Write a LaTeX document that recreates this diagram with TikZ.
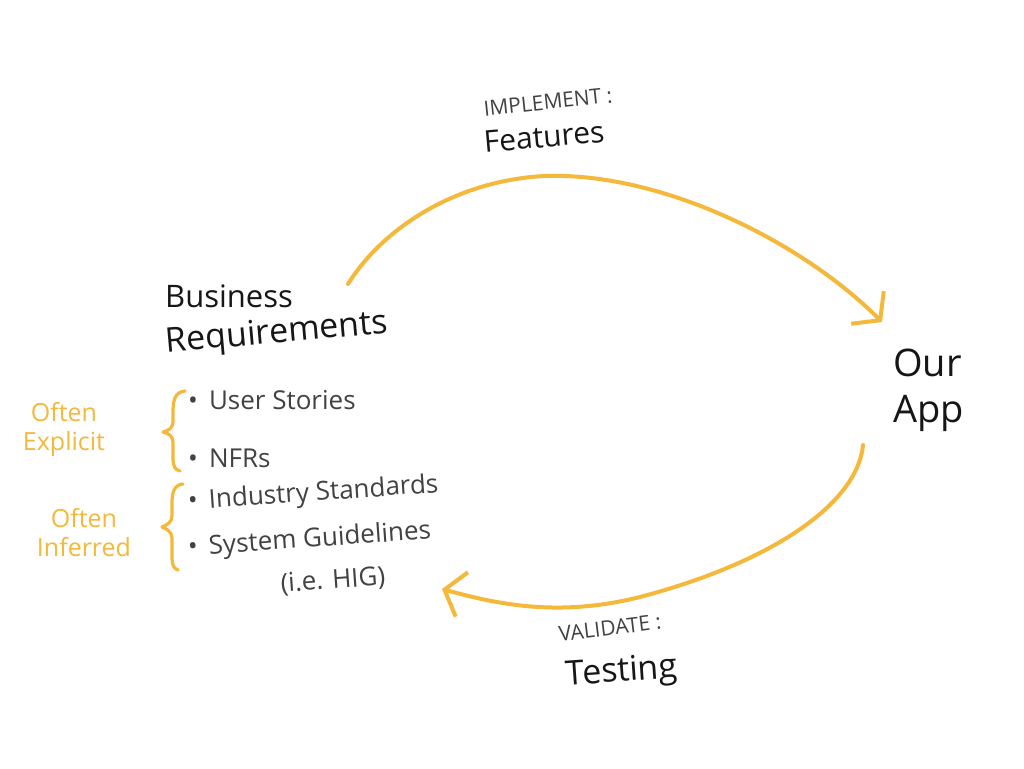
\documentclass[tikz,border=0pt]{standalone}
\usepackage{fontspec}
\setmainfont{Open Sans}
\usetikzlibrary{arrows.meta}
\definecolor{amber}{RGB}{244,184,58}
\definecolor{ink}{RGB}{22,22,22}
\definecolor{pencil}{RGB}{66,66,66}
\tikzset{
  bigtext/.style={text=ink, inner sep=0pt, font=\fontsize{32}{40}\selectfont},
  labeltop/.style={text=pencil, inner sep=0pt, font=\fontsize{21}{24}\selectfont},
  labelmain/.style={text=ink, inner sep=0pt, font=\fontsize{30}{34}\selectfont},
  item/.style={text=pencil, inner sep=0pt, anchor=west, font=\fontsize{26}{30}\selectfont},
  note/.style={text=amber, inner sep=0pt, align=center, font=\fontsize{25}{29}\selectfont},
  flow/.style={draw=amber, line width=4pt, line cap=round, line join=round,
    -{Straight Barb[length=18pt,width=46pt,line width=4pt]}},
  bracestroke/.style={draw=amber, line width=3.2pt, line cap=round, line join=round}
}
\begin{document}
\begin{tikzpicture}[x=1pt,y=-1pt]
\path[use as bounding box, fill=white] (0,0) rectangle (1024,768);

% main texts
\node[bigtext, anchor=west, font=\fontsize{31}{36}\selectfont] (bus) at (165,296) {Business};
\node[bigtext, anchor=west, rotate=5, font=\fontsize{34}{40}\selectfont] (req) at (166,344) {Requirements};
\node[bigtext, anchor=west, align=left, font=\fontsize{38}{46}\selectfont] (app) at (893,390) {Our\\App};

% arc labels
\node[labeltop, rotate=6] (impl) at (548,102) {IMPLEMENT :};
\node[labelmain, rotate=5] (feat) at (544,137) {Features};
\node[labeltop, rotate=7] (vali) at (610,628) {VALIDATE :};
\node[labelmain, rotate=4, font=\fontsize{34}{38}\selectfont] (test) at (622,673) {Testing};

% items
\node[item] (us) at (188,400) {•\, User Stories};
\node[item] (nfr) at (188,458) {•\, NFRs};
\node[item, rotate=4] (ind) at (188,503) {•\, Industry Standards};
\node[item, rotate=4] (sys) at (188,549) {•\, System Guidelines};
\node[text=pencil, inner sep=0pt, font=\fontsize{26}{30}\selectfont, rotate=4] (hig) at (333,581) {(i.e. HIG)};

% side notes
\node[note] (expl) at (64,429) {Often\\Explicit};
\node[note] (infr) at (84,533) {Often\\Inferred};

% braces
\path[bracestroke] (185,391) .. controls (175,392) and (173,400) .. (173,412) -- (173,422)
  .. controls (173,428) and (168,431) .. (163,432) .. controls (168,433) and (173,436) .. (173,442)
  -- (173,458) .. controls (173,466) and (175,470) .. (180,471);
\path[bracestroke] (183,484) .. controls (174,485) and (172,492) .. (172,504) -- (172,516)
  .. controls (172,522) and (167,525) .. (162,527) .. controls (167,529) and (172,532) .. (172,538)
  -- (172,558) .. controls (172,565) and (174,569) .. (178,570);

% connectors
\coordinate (a1) at (348,284);
\coordinate (a2) at (882,322);
\coordinate (b1) at (863,445);
\coordinate (b2) at (442,589);
\draw[flow] (a1) .. controls (385,225) and (460,180) .. (545,176)
  .. controls (660,172) and (800,240) .. (a2);
\draw[flow] (b1) .. controls (858,500) and (780,560) .. (640,597)
  .. controls (560,617) and (500,605) .. (b2);
\end{tikzpicture}
\end{document}
